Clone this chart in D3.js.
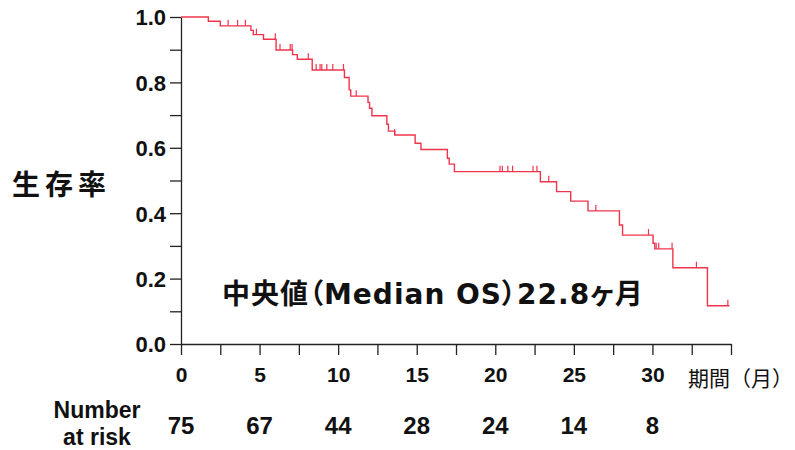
<!DOCTYPE html>
<html>
<head>
<meta charset="utf-8">
<script src="https://cdn.jsdelivr.net/npm/d3@7"></script>
<style>
  body { margin: 0; background: #fff; }
  svg { display: block; }
  .tick text { font-family: "Liberation Sans", Arial, sans-serif; font-weight: bold; }
</style>
</head>
<body>
<svg id="chart" width="795" height="450"></svg>
<script>
// 死亡イベント (月) と、その直後の生存率
const eventMonths = [1.74, 2.5, 4.45, 4.6, 5.25, 6.05, 7.1, 7.4, 8.35,
  10.4, 10.7, 10.8, 11.9, 12.0, 12.15, 13.1, 13.2, 13.6, 14.9, 15.27,
  16.95, 17.07, 17.4, 22.87, 23.9, 24.8, 25.9, 27.9, 28.1, 30.04, 30.15,
  31.3, 33.5];
const survival = [0.987, 0.973, 0.959, 0.946, 0.932, 0.899, 0.885, 0.871, 0.838,
  0.815, 0.777, 0.758, 0.739, 0.721, 0.698, 0.672, 0.651, 0.639, 0.614, 0.595,
  0.568, 0.550, 0.527, 0.496, 0.466, 0.437, 0.407, 0.364, 0.333, 0.308, 0.291,
  0.233, 0.117];
// 打ち切り (月)
const censorMonths = [3.0, 3.6, 4.1, 4.8, 6.0, 6.3, 6.95, 7.07, 8.1,
  8.6, 8.85, 8.96, 9.28, 9.66, 10.34, 11.15, 13.6, 20.3, 20.45, 20.8, 21.1,
  22.4, 22.65, 23.4, 26.4, 29.75, 30.24, 30.4, 31.25, 32.8, 34.8];
const lastFollowUp = 34.9;

// Number at risk
const riskMonths = [0, 5, 10, 15, 20, 25, 30];
const riskCounts = [75, 67, 44, 28, 24, 14, 8];

const xTicks = d3.range(0, 35.01, 2.5);
const xLabels = [0, 5, 10, 15, 20, 25, 30];
const yTicks = d3.range(0, 1.001, 0.1);
const yLabels = [0, 0.2, 0.4, 0.6, 0.8, 1.0];

const lineColor = "#f0344c";

const svg = d3.select("#chart");

const x = d3.scaleLinear().domain([0, 35]).range([181, 731]);
const y = d3.scaleLinear().domain([0, 1]).range([344, 17]);

/* 軸 */
const isLabel = (list, v) => list.some(l => Math.abs(l - v) < 1e-6);

const xAxis = d3.axisBottom(x)
  .tickValues(xTicks)
  .tickSize(11)
  .tickSizeOuter(0)
  .tickPadding(12)
  .tickFormat(d => isLabel(xLabels, d) ? d3.format("d")(d) : "");

const yAxis = d3.axisLeft(y)
  .tickValues(yTicks)
  .tickSize(11)
  .tickSizeOuter(0)
  .tickPadding(4)
  .tickFormat(d => isLabel(yLabels, d) ? d3.format(".1f")(d) : "");

const gx = svg.append("g")
  .attr("transform", `translate(0,${y(0)})`)
  .call(xAxis);
const gy = svg.append("g")
  .attr("transform", `translate(${x(0)},0)`)
  .call(yAxis);

[gx, gy].forEach(g => {
  g.selectAll("path, line").attr("stroke", "#222").attr("stroke-width", 1.3);
  g.selectAll("text").attr("fill", "#111");
});
gx.selectAll("text").style("font-size", "21px");
gy.selectAll("text").style("font-size", "22px").attr("dy", "0.36em");

/* 生存曲線 */
const pts = [[0, 1]].concat(eventMonths.map((t, i) => [t, survival[i]]));
pts.push([lastFollowUp, survival[survival.length - 1]]);

const lineFunc = d3.line()
  .x(d => x(d[0]))
  .y(d => y(d[1]))
  .curve(d3.curveStepAfter);

svg.append("path")
  .datum(pts)
  .attr("d", lineFunc)
  .attr("fill", "none")
  .attr("stroke", lineColor)
  .attr("stroke-width", 1.4);

// 打ち切りの目印
const survAt = t => {
  let s = 1;
  eventMonths.forEach((e, i) => { if (e <= t) s = survival[i]; });
  return s;
};
svg.append("g").selectAll("line")
  .data(censorMonths)
  .join("line")
  .attr("x1", d => x(d)).attr("x2", d => x(d))
  .attr("y1", d => y(survAt(d)))
  .attr("y2", d => y(survAt(d)) - 6)
  .attr("stroke", lineColor)
  .attr("stroke-width", 1.2);

/* テキスト */
svg.append("text")
  .attr("x", 12).attr("y", 195)
  .style("font-family", "'Noto Sans CJK JP', sans-serif")
  .style("font-weight", "bold")
  .style("font-size", "28px")
  .style("letter-spacing", "5px")
  .attr("fill", "#111")
  .text("生存率");

svg.append("text")
  .attr("x", 222).attr("y", 304)
  .style("font-family", "'DejaVu Sans', 'Noto Sans CJK JP', sans-serif")
  .style("font-weight", "bold")
  .style("font-size", "28px")
  .style("letter-spacing", "1px")
  .style("font-feature-settings", "'palt'")
  .attr("fill", "#111")
  .text("中央値（Median OS）22.8ヶ月");

svg.append("text")
  .attr("x", 688).attr("y", 386)
  .style("font-family", "'Noto Sans CJK JP', sans-serif")
  .style("font-size", "21px")
  .attr("fill", "#111")
  .text("期間（月）");

const labelFont = "'Liberation Sans', Arial, sans-serif";
svg.append("text")
  .attr("x", 97).attr("y", 418)
  .attr("text-anchor", "middle")
  .style("font-family", labelFont)
  .style("font-weight", "bold")
  .style("font-size", "23px")
  .attr("fill", "#111")
  .text("Number");
svg.append("text")
  .attr("x", 97).attr("y", 445)
  .attr("text-anchor", "middle")
  .style("font-family", labelFont)
  .style("font-weight", "bold")
  .style("font-size", "23px")
  .attr("fill", "#111")
  .text("at risk");

svg.append("g").selectAll("text")
  .data(riskMonths)
  .join("text")
  .attr("x", d => x(d))
  .attr("y", 434)
  .attr("text-anchor", "middle")
  .style("font-family", labelFont)
  .style("font-weight", "bold")
  .style("font-size", "24px")
  .attr("fill", "#111")
  .text((d, i) => riskCounts[i]);
</script>
</body>
</html>
